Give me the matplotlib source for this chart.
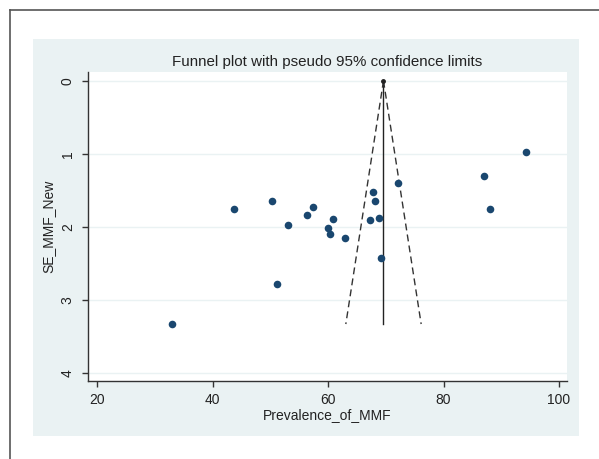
import matplotlib
matplotlib.use("Agg")
import matplotlib.pyplot as plt
from matplotlib.patches import Rectangle
from matplotlib.lines import Line2D

plt.rcParams['font.family'] = ['Liberation Sans', 'DejaVu Sans']

# study estimates
prevalence = [43.7, 50.3, 53.1, 56.4, 57.4, 60.8, 59.9, 60.4, 62.9, 67.8,
              68.2, 67.2, 68.8, 72.1, 69.1, 94.3, 87.0, 88.1, 32.9, 51.2]
se_mmf = [1.75, 1.65, 1.98, 1.84, 1.73, 1.89, 2.02, 2.10, 2.15, 1.52,
          1.65, 1.90, 1.88, 1.40, 2.42, 0.98, 1.30, 1.76, 3.33, 2.78]

# pooled estimate and range of the pseudo confidence limits
pooled = 69.6
z95 = 1.96
se_range = [0.0, 3.33]

x_ticks = [20, 40, 60, 80, 100]
y_ticks = [0, 1, 2, 3, 4]

navy = '#1a476f'
bg = '#eaf2f3'

fig = plt.figure(figsize=(5.99, 4.59), dpi=100)

# stata style outer region and frame
fig.patches.append(Rectangle((0.0551, 0.0501), 0.9115, 0.8649,
                             transform=fig.transFigure, facecolor=bg,
                             edgecolor='none', zorder=-2))
fig.lines.append(Line2D([10 / 599, 1.0], [1 - 10 / 459, 1 - 10 / 459],
                        transform=fig.transFigure, color='#555555', lw=1.2))
fig.lines.append(Line2D([10 / 599, 10 / 599], [0.0, 1 - 10 / 459],
                        transform=fig.transFigure, color='#555555', lw=1.2))

ax = fig.add_axes([0.1469, 0.1699, 0.7997, 0.6732])
ax.set_facecolor('white')

for t in y_ticks:
    ax.axhline(t, color=bg, lw=1.0, zorder=0)

# funnel
lo = [pooled - z95 * s for s in se_range]
hi = [pooled + z95 * s for s in se_range]
ax.plot([pooled, pooled], se_range, color='#222222', lw=1.0, zorder=2)
ax.plot(lo, se_range, color='#333333', lw=1.0, ls=(0, (5, 3)), zorder=2)
ax.plot(hi, se_range, color='#333333', lw=1.0, ls=(0, (5, 3)), zorder=2)
ax.plot([pooled], [0], marker='o', ms=2.5, color='#222222', zorder=3)

ax.scatter(prevalence, se_mmf, s=30, color=navy, zorder=4, linewidths=0)

ax.set_xlim(18.4, 101.4)
ax.set_ylim(4.11, -0.12)
ax.set_xticks(x_ticks)
ax.set_yticks(y_ticks)
ax.tick_params(axis='both', length=4.5, width=1, color='#333333',
               labelsize=10, labelcolor='#222222')
ax.tick_params(axis='x', pad=4)
ax.tick_params(axis='y', pad=5)
for lab in ax.get_yticklabels():
    lab.set_rotation(90)
    lab.set_va('center')

for side in ['top', 'right']:
    ax.spines[side].set_visible(False)
for side in ['left', 'bottom']:
    ax.spines[side].set_color('#333333')
    ax.spines[side].set_linewidth(1.0)

ax.set_xlabel('Prevalence_of_MMF', fontsize=10, color='#222222', labelpad=1)
ax.set_ylabel('SE_MMF_New', fontsize=10, color='#222222', labelpad=4)
ax.set_title('Funnel plot with pseudo 95% confidence limits', fontsize=10.9,
             color='#222222', pad=4)

fig.savefig('out.png', dpi=100)
